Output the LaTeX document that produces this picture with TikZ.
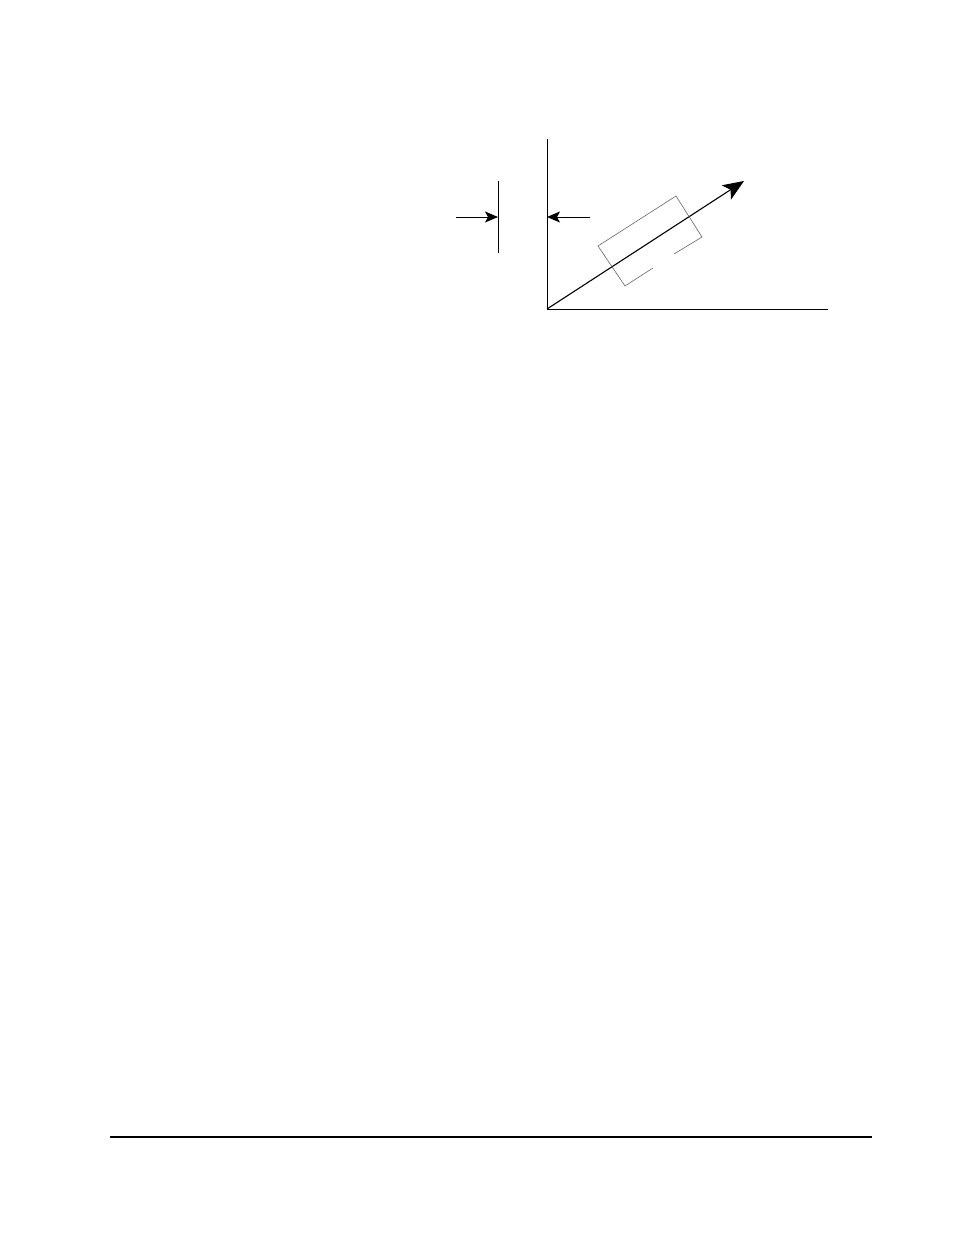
\documentclass[tikz,border=0pt]{standalone}
\usetikzlibrary{arrows.meta}
\begin{document}
\begin{tikzpicture}[x=1pt,y=-1pt,
  axis/.style={line width=1pt},
  vec/.style={line width=1.1pt,-{Stealth[length=21pt,width=17pt,inset=5pt]}},
  dimarrow/.style={line width=0.9pt,-{Stealth[length=13pt,width=11pt,inset=3pt]}},
  grey/.style={draw=black!60,line width=0.6pt}]
\useasboundingbox (0,0) rectangle (954,1235);
\coordinate (O) at (547,309);
\coordinate (Ytop) at (547,139);
\coordinate (Xend) at (828,309);
\coordinate (Tip) at (744,181);
\coordinate (Lt) at (498,181);
\coordinate (Lb) at (498,253);
\coordinate (La) at (456,217);
\coordinate (Lh) at (498,217);
\coordinate (Ra) at (590,217);
\coordinate (Rh) at (547,217);
\coordinate (A) at (598,246);
\coordinate (B) at (676,196);
\coordinate (C) at (702,237);
\coordinate (D) at (625,286);
\coordinate (G1) at (653,268);
\coordinate (G2) at (674,254);
\coordinate (F1) at (110,1137);
\coordinate (F2) at (872,1137);
\draw[axis] (Ytop) -- (O) -- (Xend);
\draw[vec] (O) -- (Tip);
\draw[axis] (Lt) -- (Lb);
\draw[dimarrow] (La) -- (Lh);
\draw[dimarrow] (Ra) -- (Rh);
\draw[grey] (G1) -- (D) -- (A) -- (B) -- (C) -- (G2);
\draw[line width=2pt] (F1) -- (F2);
\end{tikzpicture}
\end{document}
